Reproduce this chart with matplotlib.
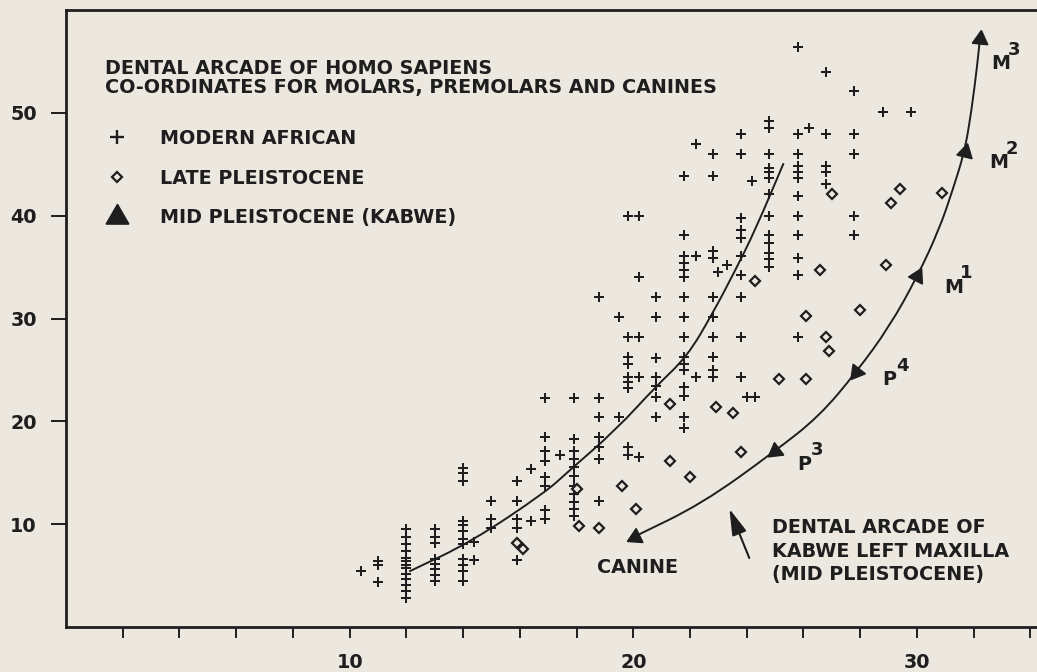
import numpy as np
import matplotlib
matplotlib.use("Agg")
import matplotlib.pyplot as plt
from matplotlib.lines import Line2D
from matplotlib.path import Path
from matplotlib.patches import PathPatch

# colours of the scanned page
paper = "#ece8e0"
ink = "#1e1e1e"

plt.rcParams["font.family"] = ["DejaVu Sans"]
plt.rcParams["font.weight"] = "bold"
FS = 13.8

# modern African specimens (+), read column by column
modern_x = [
    10.4,
    11.0, 11.0, 11.0,
    12.0, 12.0, 12.0, 12.0, 12.0, 12.0, 12.0, 12.0, 12.0, 12.0, 12.0, 12.0, 12.0,
    13.0, 13.0, 13.0, 13.0, 13.0, 13.0, 13.0, 13.0,
    14.0, 14.0, 14.0, 14.0, 14.0, 14.0, 14.0, 14.0, 14.0, 14.0, 14.0, 14.0,
    14.4, 14.4,
    15.0, 15.0, 15.0,
    15.9, 15.9, 15.9, 15.9, 15.9,
    16.4, 16.4,
    16.9, 16.9, 16.9, 16.9, 16.9, 16.9, 16.9, 16.9,
    17.4,
    17.9, 17.9, 17.9, 17.9, 17.9, 17.9, 17.9, 17.9, 17.9, 17.9, 17.9,
    18.8, 18.8, 18.8, 18.8, 18.8, 18.8, 18.8,
    19.5, 19.5,
    19.8, 19.8, 19.8, 19.8, 19.8, 19.8, 19.8, 19.8, 19.8,
    20.2, 20.2, 20.2, 20.2, 20.2,
    20.8, 20.8, 20.8, 20.8, 20.8, 20.8, 20.8,
    21.8, 21.8, 21.8, 21.8, 21.8, 21.8, 21.8, 21.8, 21.8, 21.8, 21.8, 21.8, 21.8, 21.8, 21.8, 21.8,
    22.2, 22.2, 22.2,
    22.8, 22.8, 22.8, 22.8, 22.8, 22.8, 22.8, 22.8, 22.8, 22.8,
    23.0,
    23.3,
    23.8, 23.8, 23.8, 23.8, 23.8, 23.8, 23.8, 23.8, 23.8, 23.8,
    24.0,
    24.2,
    24.3,
    24.8, 24.8, 24.8, 24.8, 24.8, 24.8, 24.8, 24.8, 24.8, 24.8, 24.8, 24.8, 24.8,
    25.8, 25.8, 25.8, 25.8, 25.8, 25.8, 25.8, 25.8, 25.8, 25.8, 25.8, 25.8,
    26.2,
    26.8, 26.8, 26.8, 26.8, 26.8,
    27.8, 27.8, 27.8, 27.8, 27.8,
    28.8,
    29.8,
]
modern_y = [
    5.4,
    6.4, 6.0, 4.4,
    9.5, 8.8, 8.1, 7.4, 6.7, 6.4, 6.0, 5.7, 5.2, 4.7, 4.1, 3.5, 2.8,
    9.5, 8.8, 8.2, 6.6, 6.1, 5.6, 5.1, 4.5,
    15.5, 15.0, 14.2, 10.3, 9.9, 9.3, 8.6, 8.1, 6.6, 6.0, 5.4, 4.5,
    8.3, 6.5,
    12.3, 10.5, 9.6,
    14.2, 12.3, 10.5, 9.6, 6.5,
    15.4, 10.3,
    22.3, 18.5, 17.1, 16.1, 14.6, 13.7, 11.4, 10.5,
    16.7,
    22.3, 18.3, 17.1, 16.3, 15.6, 14.7, 13.7, 12.9, 12.2, 11.5, 10.8,
    32.1, 22.3, 20.4, 18.5, 17.5, 16.3, 12.3,
    30.1, 20.4,
    40.0, 28.2, 26.3, 25.6, 24.3, 23.8, 23.2, 17.5, 16.7,
    40.0, 34.0, 28.2, 24.3, 16.5,
    32.1, 30.1, 26.2, 24.3, 23.4, 22.4, 20.4,
    43.9, 38.1, 36.1, 35.4, 34.7, 34.0, 32.1, 30.1, 28.2, 26.3, 25.6, 25.0, 23.3, 22.5, 20.4, 19.4,
    47.0, 36.1, 24.3,
    46.0, 43.9, 36.6, 35.9, 32.1, 30.1, 28.2, 26.3, 25.0, 24.3,
    34.5,
    35.2,
    47.9, 46.0, 39.8, 38.6, 37.8, 36.1, 34.2, 32.1, 28.2, 24.3,
    22.4,
    43.4,
    22.4,
    49.2, 48.5, 46.0, 44.6, 44.2, 43.7, 42.1, 40.0, 38.1, 37.3, 36.4, 35.8, 35.0,
    56.4, 47.9, 46.0, 44.8, 44.2, 43.7, 41.9, 40.0, 38.1, 35.9, 34.2, 28.2,
    48.5,
    54.0, 47.9, 44.8, 44.2, 43.1,
    52.1, 47.9, 46.0, 40.0, 38.1,
    50.1,
    50.1,
]

# late Pleistocene specimens (diamonds)
late_x = [15.9, 16.1, 18.0, 18.1, 18.8, 19.6, 20.1, 21.3, 22.0, 23.8, 21.3, 22.9, 23.5,
          24.3, 25.15, 26.1, 26.8, 26.9, 26.1, 28.0, 26.6, 28.9, 27.0, 29.4, 29.1, 30.9]
late_y = [8.2, 7.6, 13.4, 9.8, 9.6, 13.7, 11.5, 16.1, 14.6, 17.0, 21.7, 21.4, 20.8,
          33.6, 24.1, 24.1, 28.2, 26.8, 30.2, 30.8, 34.7, 35.2, 42.1, 42.6, 41.2, 42.2]

# Kabwe left maxilla (mid Pleistocene)
kabwe_teeth = ["C", "P3", "P4", "M1", "M2", "M3"]
kabwe_x = [20.05, 25.0, 27.87, 30.02, 31.68, 32.22]
kabwe_y = [8.8, 17.1, 24.8, 34.1, 46.2, 57.2]
kabwe_points_down = [True, True, True, False, False, False]

# traced arcade curve through the Kabwe teeth
kabwe_line_x = [20.05, 22.43, 25.0, 26.56, 27.87, 29.03, 30.02, 30.79, 31.25, 31.68, 31.92, 32.13, 32.22]
kabwe_line_y = [8.8, 12.0, 17.1, 20.5, 24.8, 29.2, 34.1, 38.7, 42.4, 46.2, 50.1, 54.7, 57.2]

# mean arcade line of the modern sample
modern_line_x = [12.1, 14.3, 16.9, 17.7, 19.4, 20.8, 21.9, 22.8, 23.6, 24.3, 25.3]
modern_line_y = [5.4, 8.3, 13.1, 15.1, 19.2, 23.4, 26.3, 30.5, 34.7, 38.6, 45.1]


def smooth_path(xs, ys):
    # quadratic bezier through segment midpoints, traced vertices as controls
    pts = np.column_stack([xs, ys])
    mids = (pts[:-1] + pts[1:]) / 2
    verts = [pts[0], mids[0]]
    codes = [Path.MOVETO, Path.LINETO]
    for k in range(1, len(pts) - 1):
        verts += [pts[k], mids[k]]
        codes += [Path.CURVE3, Path.CURVE3]
    verts.append(pts[-1])
    codes.append(Path.LINETO)
    return Path(verts, codes)


W, H = 1037, 672
fig = plt.figure(figsize=(W / 100, H / 100), dpi=100, facecolor=paper)
ax = fig.add_axes([66 / W, 45 / H, 1 - 66 / W + 0.01, 617 / H], facecolor=paper)
ax.set_xlim(0, 34.6)
ax.set_ylim(0, 60)

for lx, ly in [(modern_line_x, modern_line_y), (kabwe_line_x, kabwe_line_y)]:
    ax.add_patch(PathPatch(smooth_path(lx, ly), fill=False, lw=1.4, edgecolor=ink))
ax.plot(modern_x, modern_y, ls="none", marker="+", ms=7.5, mew=1.45, color=ink)
ax.plot(late_x, late_y, ls="none", marker="D", ms=5, mfc=paper, mec=ink, mew=1.6)

# kabwe triangles drawn as arrowheads along the curve
curve = ax.transData.transform(np.column_stack([kabwe_line_x, kabwe_line_y]))
for x, y, down in zip(kabwe_x, kabwe_y, kabwe_points_down):
    p = ax.transData.transform((x, y))
    i = int(np.argmin(np.hypot(*(curve - p).T)))
    a, b = curve[max(i - 1, 0)], curve[min(i + 1, len(curve) - 1)]
    d = a - b if down else b - a
    ang = np.degrees(np.arctan2(d[1], d[0])) - 90
    ax.plot(x, y, ls="none", marker=(3, 0, ang), ms=13, color=ink)

# tooth labels with superscripts
offs = [(29, -13), (33, -8), (36, -11), (34, -11), (21, -25)]
for (tx, ty), name, x, y in zip(offs, kabwe_teeth[1:], kabwe_x[1:], kabwe_y[1:]):
    ax.annotate(name[0], (x, y), xytext=(tx * 0.72, ty * 0.72), textcoords="offset points",
                ha="center", va="center", fontsize=FS, color=ink)
    ax.annotate(name[1], (x, y), xytext=((tx + 13) * 0.72, (ty + 14) * 0.72),
                textcoords="offset points", ha="center", va="center", fontsize=FS - 0.8, color=ink)

ax.text(20.14, 5.74, "CANINE", ha="center", va="center", fontsize=FS, color=ink)
for yy, line in zip([9.63, 7.39, 5.06], ["DENTAL ARCADE OF", "KABWE LEFT MAXILLA", "(MID PLEISTOCENE)"]):
    ax.text(24.9, yy, line, ha="left", va="center", fontsize=FS, color=ink)
ax.annotate("", xy=(23.39, 11.48), xytext=(24.09, 6.71),
            arrowprops=dict(arrowstyle="-|>,head_length=0.8,head_width=0.23",
                            mutation_scale=20, lw=1.5, color=ink, shrinkA=0, shrinkB=0))

# heading and key
fig.text(105 / W, 1 - 69 / H, "DENTAL ARCADE OF HOMO SAPIENS", va="center", fontsize=FS, color=ink)
fig.text(105 / W, 1 - 88 / H, "CO-ORDINATES FOR MOLARS, PREMOLARS AND CANINES",
         va="center", fontsize=FS, color=ink)
handles = [
    Line2D([], [], ls="none", marker="+", ms=10, mew=1.7, color=ink),
    Line2D([], [], ls="none", marker="D", ms=5.5, mfc=paper, mec=ink, mew=1.6),
    Line2D([], [], ls="none", marker=(3, 0, 0), ms=19, color=ink),
]
leg = ax.legend(handles, ["MODERN AFRICAN", "LATE PLEISTOCENE", "MID PLEISTOCENE (KABWE)"],
                loc="upper left", bbox_to_anchor=(98 / W, 1 - 129 / H), bbox_transform=fig.transFigure,
                frameon=False, fontsize=FS, handlelength=2, handletextpad=1.24,
                labelspacing=1.08, borderpad=0, borderaxespad=0, labelcolor=ink)

# axes styling
for s in ["left", "bottom", "top"]:
    ax.spines[s].set_linewidth(2)
    ax.spines[s].set_color(ink)
ax.spines["right"].set_visible(False)
ax.set_xticks([10, 20, 30])
ax.set_xticks(np.arange(2, 35, 2), minor=True)
ax.set_yticks([10, 20, 30, 40, 50])
ax.tick_params(axis="x", which="both", direction="out", length=8, width=1.4, color=ink,
               labelsize=FS, pad=11, labelcolor=ink)
ax.tick_params(axis="y", direction="out", length=11, width=1.4, color=ink,
               labelsize=FS, pad=10, labelcolor=ink)

fig.savefig("out.png", dpi=100, facecolor=paper)
